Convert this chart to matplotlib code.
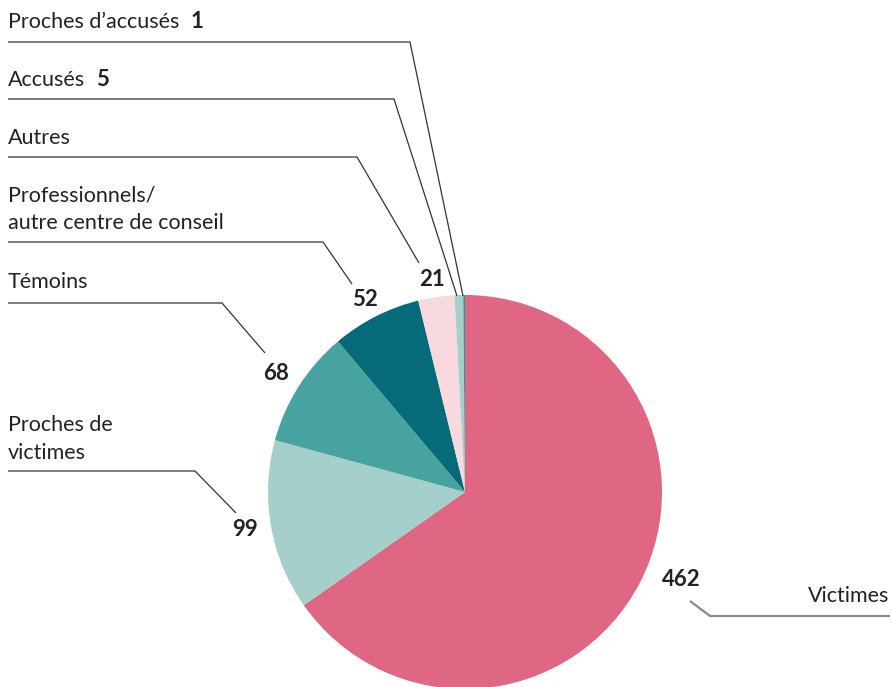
import matplotlib.pyplot as plt

labels = ["Victimes", "Proches de\nvictimes", "Témoins",
          "Professionnels/\nautre centre de conseil", "Autres",
          "Accusés", "Proches d’accusés"]
values = [462, 99, 68, 52, 21, 5, 1]
colors = ["#df6783", "#a5cfca", "#47a3a0", "#066b78", "#f7d9de",
          "#a5cfca", "#2f9896"]

W, H = 892, 687
fig = plt.figure(figsize=(W / 100, H / 100), dpi=100)
ax = fig.add_axes([0, 0, 1, 1])

# pie in pixel coordinates (y flipped)
cx, cy, r = 465, H - 492, 197
ax.pie(values, colors=colors, startangle=90, counterclock=False,
       center=(cx, cy), radius=r, frame=True,
       wedgeprops=dict(linewidth=0))
ax.set_xlim(0, W)
ax.set_ylim(0, H)
ax.axis("off")

font = "Lato"
lc = "#333333"
fs_lab = 15.5
fs_num = 16

def y(v):
    return H - v

# leader lines: (label pos, line points, number pos)
layout = [
    # Victimes
    dict(text=(889, 596, "right"), num=(681, 580),
         line=[(690, 601), (710, 616), (890, 616)], lcol="#8a8a8a", lw=1.6),
    # Proches de victimes
    dict(text=(8, 439, "left"), num=(245, 530),
         line=[(8, 471), (195, 471), (236, 513)], lcol=lc, lw=0.9),
    # Témoins
    dict(text=(8, 282, "left"), num=(276, 374),
         line=[(8, 303), (222, 303), (265, 353)], lcol=lc, lw=0.9),
    # Professionnels
    dict(text=(8, 209, "left"), num=(365, 300),
         line=[(8, 242), (323, 242), (352, 284)], lcol=lc, lw=0.9),
    # Autres
    dict(text=(8, 138, "left"), num=(432, 280),
         line=[(8, 157), (357, 157), (419, 263)], lcol=lc, lw=0.9),
    # Accusés
    dict(text=(8, 80, "left"), num=None,
         line=[(8, 99), (394, 99), (457, 296)], lcol=lc, lw=0.9),
    # Proches d'accusés
    dict(text=(8, 22, "left"), num=None,
         line=[(8, 42), (410, 42), (463, 296)], lcol=lc, lw=0.9),
]

fig.canvas.draw()
for lab, val, lay in zip(labels, values, layout):
    xs = [p[0] for p in lay["line"]]
    ys = [y(p[1]) for p in lay["line"]]
    ax.plot(xs, ys, color=lay["lcol"], lw=lay["lw"], solid_capstyle="butt")
    tx, ty, ha = lay["text"]
    t = ax.text(tx, y(ty), lab, ha=ha, va="center", fontsize=fs_lab,
                family=font, color="#222222", linespacing=1.45)
    if lay["num"] is None:
        bb = t.get_window_extent(renderer=fig.canvas.get_renderer())
        ax.text(bb.x1 + 11, y(ty), str(val), ha="left", va="center",
                fontsize=fs_num, family=font, weight="bold", color="#222222")
    else:
        nx, ny = lay["num"]
        ax.text(nx, y(ny), str(val), ha="center", va="center", fontsize=fs_num,
                family=font, weight="bold", color="#222222")

fig.savefig("out.png", dpi=100)
